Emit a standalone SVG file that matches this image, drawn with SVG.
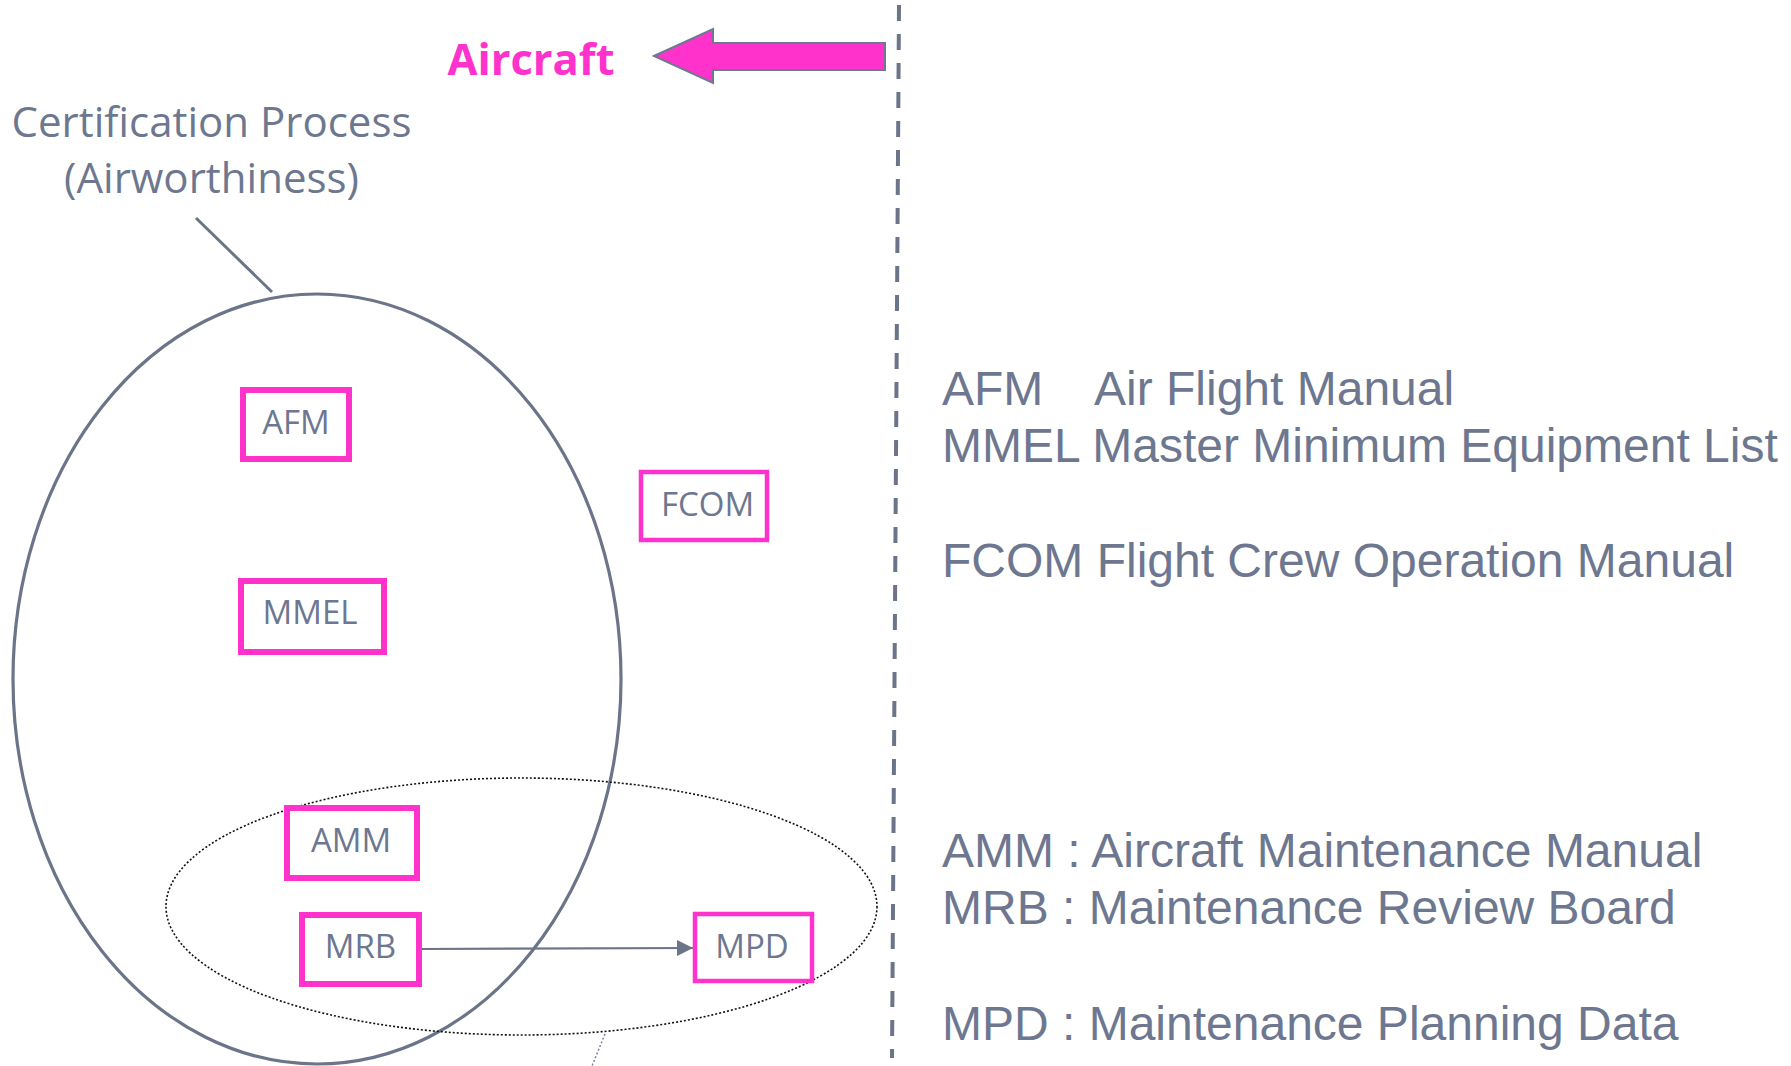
<svg xmlns="http://www.w3.org/2000/svg" width="1791" height="1066" viewBox="0 0 1791 1066">
  <style>
    .box { fill: #FFFFFF; stroke: #FF33CC; stroke-width: 6; }
    .box-thin { fill: #FFFFFF; stroke: #FF33CC; stroke-width: 4.5; }
    .lbl { font-family: "Open Sans", "Liberation Sans", sans-serif; font-size: 33px; fill: #6D7790; text-anchor: middle; }
    .legend { font-family: "Liberation Sans", Arial, sans-serif; font-size: 48px; fill: #6D7790; }
    .title { font-family: "Open Sans", "Liberation Sans", sans-serif; font-size: 42px; fill: #6D7790; text-anchor: middle; }
    .gray { stroke: #6B7489; fill: none; }
  </style>
  <defs>
    <marker id="arrowhead" markerUnits="userSpaceOnUse" markerWidth="16" markerHeight="16" refX="16" refY="8" orient="auto">
      <path d="M0,0 L16,8 L0,16 Z" fill="#6B7489"/>
    </marker>
  </defs>
  <rect width="1791" height="1066" fill="#FFFFFF"/>

  <!-- dashed divider -->
  <line x1="899" y1="5" x2="892" y2="1058" stroke="#6B7489" stroke-width="4" stroke-dasharray="16 13"/>

  <!-- Aircraft heading and arrow -->
  <g id="aircraft">
    <text x="531" y="75" font-family="'Open Sans', 'Liberation Sans', sans-serif" font-size="43.5" font-weight="bold" fill="#FF33CC" text-anchor="middle">Aircraft</text>
    <polygon points="654,56 713,29 713,43 885,43 885,70 713,70 713,83" fill="#FF33CC" stroke="#6B7A8F" stroke-width="2"/>
  </g>

  <!-- Certification process label -->
  <g id="certification-label">
    <text class="title" x="211.5" y="137">Certification Process</text>
    <text class="title" x="211.5" y="193">(Airworthiness)</text>
  </g>

  <!-- Ellipses -->
  <g id="certification-ellipse">
    <ellipse cx="317" cy="679" rx="304" ry="385" class="gray" stroke-width="3.2"/>
  </g>
  <g id="maintenance-ellipse">
    <ellipse cx="521.5" cy="906.5" rx="355.5" ry="128.5" fill="none" stroke="#111111" stroke-width="1.6" stroke-dasharray="2 2"/>
  </g>

  <!-- Connectors -->
  <g id="connectors">
    <line x1="196" y1="218" x2="272" y2="292" stroke="#6B7489" stroke-width="3"/>
    <line x1="422" y1="949" x2="693" y2="948" stroke="#6B7489" stroke-width="2.2" marker-end="url(#arrowhead)"/>
    <line x1="605" y1="1034" x2="592" y2="1066" stroke="#7A82A0" stroke-width="1.5" stroke-dasharray="2 2"/>
  </g>

  <!-- Nodes -->
  <g id="node-afm">
    <rect class="box" x="243" y="390" width="106" height="69"/>
    <text class="lbl" x="296" y="434">AFM</text>
  </g>
  <g id="node-mmel">
    <rect class="box" x="241" y="581" width="143" height="71"/>
    <text class="lbl" x="310" y="624">MMEL</text>
  </g>
  <g id="node-fcom">
    <rect class="box-thin" x="641" y="472" width="126" height="68"/>
    <text class="lbl" x="707.5" y="516">FCOM</text>
  </g>
  <g id="node-amm">
    <rect class="box" x="287" y="808" width="130" height="70"/>
    <text class="lbl" x="351" y="852">AMM</text>
  </g>
  <g id="node-mrb">
    <rect class="box" x="302" y="915" width="117" height="69"/>
    <text class="lbl" x="360.5" y="958">MRB</text>
  </g>
  <g id="node-mpd">
    <rect class="box-thin" x="695" y="914" width="117" height="67"/>
    <text class="lbl" x="752" y="958">MPD</text>
  </g>

  <!-- Legend -->
  <g id="legend">
    <text class="legend" x="942" y="405">AFM</text>
    <text class="legend" x="1094" y="405">Air Flight Manual</text>
    <text class="legend" x="942" y="462">MMEL Master Minimum Equipment List</text>
    <text class="legend" x="942" y="577">FCOM Flight Crew Operation Manual</text>
    <text class="legend" x="942" y="867">AMM : Aircraft Maintenance Manual</text>
    <text class="legend" x="942" y="924">MRB : Maintenance Review Board</text>
    <text class="legend" x="942" y="1040">MPD : Maintenance Planning Data</text>
  </g>
</svg>
